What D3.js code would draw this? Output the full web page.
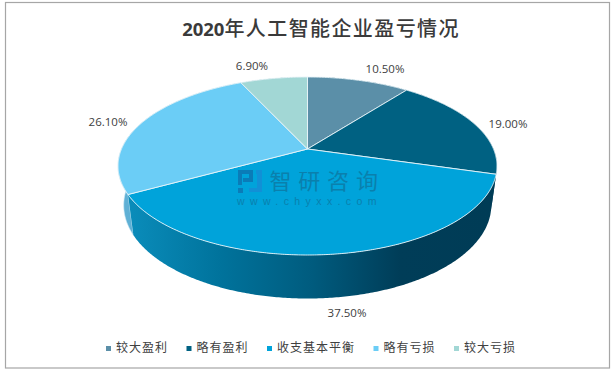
<!DOCTYPE html>
<html>
<head>
<meta charset="utf-8">
<script src="https://cdn.jsdelivr.net/npm/d3@7.9.0/dist/d3.min.js"></script>
<style>
    html, body { margin: 0; padding: 0; background: #fff; }
    svg { display: block; }
    text { font-family: "Noto Sans CJK SC", "Noto Sans", sans-serif; }
</style>
</head>
<body>
<svg id="chart" width="615" height="375"></svg>
<script>
const categories = ["较大盈利", "略有盈利", "收支基本平衡", "略有亏损", "较大亏损"];
const values = [10.5, 19.0, 37.5, 26.1, 6.9];
const valueLabels = ["10.50%", "19.00%", "37.50%", "26.10%", "6.90%"];
const topColors = ["#5b8fa8", "#006182", "#00a3da", "#6bcdf6", "#a2d7d5"];
const wallColors = ["#3f6678", "#02405c", "#00a3da", "#5fb0d5", "#7fb0ae"];

const svg = d3.select("#chart");

// Outer frame
svg.append("rect")
    .attr("x", 5.5).attr("y", 2.5)
    .attr("width", 604).attr("height", 365.5)
    .attr("fill", "#fff").attr("stroke", "#a6a6a6")
    .attr("stroke-width", 1.2);

// Title: digits and Chinese run at different widths in the reference
const title = svg.append("text")
    .attr("x", 321).attr("y", 36)
    .attr("text-anchor", "middle")
    .attr("fill", "#3a3a3a");
title.append("tspan")
    .style("font-family", '"Open Sans", sans-serif')
    .attr("font-size", 18.5)
    .attr("font-weight", 700)
    .text("2020");
title.append("tspan")
    .attr("font-size", 20)
    .attr("font-weight", 500)
    .attr("letter-spacing", 1.4)
    .text("年人工智能企业盈亏情况");

// Pie angles, clockwise from the top
const pie = d3.pie().value(d => d).sort(null);
const arcs = pie(values);

// The pie is drawn in perspective: unit circle -> screen
const persp = -0.191;
const cx = 307.5;
function project(angle, disc) {
    const u = Math.sin(angle), v = -Math.cos(angle);
    const w = 1 + persp * v;
    return [cx + disc.k * u / w, (disc.a * v + disc.b) / w];
}
const topDisc = { k: 186, a: 57.3, b: 149 };
const bottomDisc = { k: 180.4, a: 54, b: 187.5 };

function rim(a0, a1, disc) {
    const n = Math.max(2, Math.ceil((a1 - a0) / 0.01));
    return d3.range(n + 1).map(i => project(a0 + (a1 - a0) * i / n, disc));
}
const line = d3.line();

const defs = svg.append("defs");
const wallGrad = defs.append("linearGradient")
    .attr("id", "wallGrad")
    .attr("gradientUnits", "userSpaceOnUse")
    .attr("x1", 130).attr("x2", 490).attr("y1", 0).attr("y2", 0);
wallGrad.append("stop").attr("offset", 0).attr("stop-color", "#0a8cba");
wallGrad.append("stop").attr("offset", 0.25).attr("stop-color", "#00739c");
wallGrad.append("stop").attr("offset", 0.5).attr("stop-color", "#005c7f");
wallGrad.append("stop").attr("offset", 0.75).attr("stop-color", "#003d58");
wallGrad.append("stop").attr("offset", 1).attr("stop-color", "#003c56");

// Walls, back to front
[0, 4, 1, 3, 2].forEach(i => {
    const d = arcs[i];
    const pts = rim(d.startAngle, d.endAngle, topDisc)
        .concat(rim(d.startAngle, d.endAngle, bottomDisc).reverse());
    svg.append("path")
        .attr("d", line(pts) + "Z")
        .attr("fill", i === 2 ? "url(#wallGrad)" : wallColors[i])
        .attr("stroke", i === 3 ? "#cfe9f5" : "none")
        .attr("stroke-width", 0.6);
});

// Top faces
const centre = [cx, topDisc.b];
arcs.forEach((d, i) => {
    const pts = [centre].concat(rim(d.startAngle, d.endAngle, topDisc));
    svg.append("path")
        .attr("d", line(pts) + "Z")
        .attr("fill", topColors[i])
        .attr("stroke", "#e8f4f8")
        .attr("stroke-width", 0.9)
        .attr("stroke-linejoin", "round");
});

// Watermark
const mark = svg.append("g");
mark.append("path")
    .attr("fill", "#0a7cb8")
    .attr("d", "M238 170h15v12h-10v-4h6v-4h-7v11h-4zM238 188h5v5h-5z");
mark.append("path")
    .attr("fill", "#1190d6")
    .attr("d", "M256 170h6v22h-13v-4h8v-14h-1z");
svg.append("text")
    .attr("x", 269.5).attr("y", 189)
    .attr("fill", "#0a80ad")
    .attr("font-size", 22)
    .attr("letter-spacing", 6.8)
    .text("智研咨询");
svg.append("text")
    .attr("x", 237).attr("y", 205)
    .attr("fill", "#0a80ad")
    .attr("font-size", 10.5)
    .attr("letter-spacing", 5.4)
    .style("font-family", '"Liberation Sans", sans-serif')
    .text("www.chyxx.com");

// Value labels
const labelPos = [[385, 73], [508, 128], [347, 317], [108, 126], [252, 70]];
svg.selectAll("text.value")
    .data(valueLabels)
    .join("text")
    .attr("class", "value")
    .attr("x", (d, i) => labelPos[i][0])
    .attr("y", (d, i) => labelPos[i][1])
    .attr("text-anchor", "middle")
    .attr("fill", "#404040")
    .attr("font-size", 11.5)
    .style("font-family", '"Open Sans", sans-serif')
    .text(d => d);

// Legend
let legendX = 106;
categories.forEach((name, i) => {
    svg.append("rect")
        .attr("x", legendX).attr("y", 346)
        .attr("width", 5).attr("height", 5)
        .attr("fill", topColors[i]);
    svg.append("text")
        .attr("x", legendX + 10).attr("y", 352)
        .attr("fill", "#404040")
        .attr("font-size", 12)
        .attr("letter-spacing", 1)
        .text(name);
    legendX += 9 + name.length * 13 + 19.5;
});
</script>
</body>
</html>
